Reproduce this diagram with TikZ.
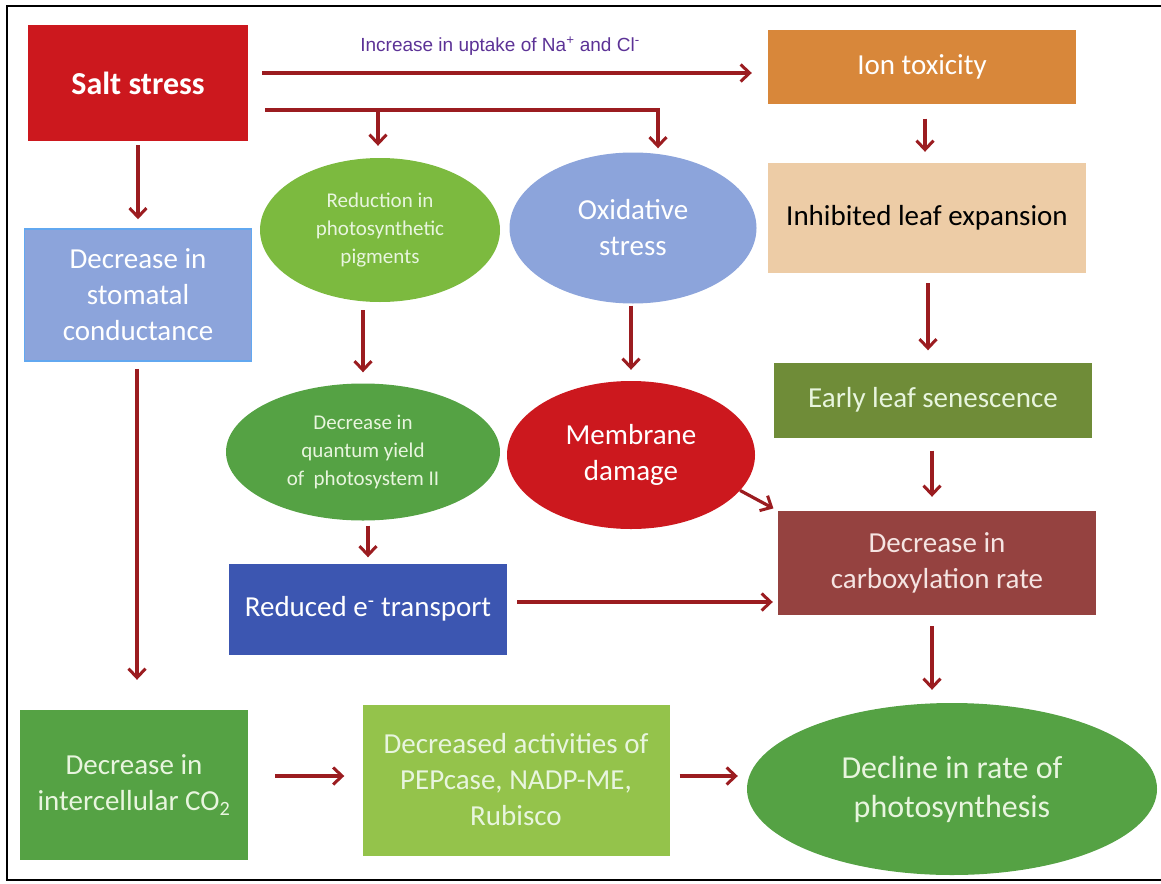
\documentclass[tikz,border=0pt]{standalone}
\usepackage{fontspec}
\setmainfont{Carlito}
\newfontfamily\arialfont{Liberation Sans}
\usetikzlibrary{arrows.meta,shapes.geometric}

\definecolor{arrowred}{RGB}{155,28,32}
\definecolor{saltred}{RGB}{204,24,30}
\definecolor{ionorange}{RGB}{216,135,58}
\definecolor{leafbeige}{RGB}{237,204,166}
\definecolor{olivegreen}{RGB}{111,140,56}
\definecolor{carbbrown}{RGB}{149,66,64}
\definecolor{midgreen}{RGB}{85,162,68}
\definecolor{paleblue}{RGB}{140,164,219}
\definecolor{skyline}{RGB}{98,168,240}
\definecolor{yellowgreen}{RGB}{124,186,63}
\definecolor{limegreen}{RGB}{148,195,75}
\definecolor{deepblue}{RGB}{60,86,177}
\definecolor{labelpurple}{RGB}{92,50,150}
\definecolor{greenwhite}{RGB}{232,245,222}
\definecolor{pinkwhite}{RGB}{245,228,226}

\begin{document}
\begin{tikzpicture}[x=1pt, y=-1pt,
  link/.style={draw=arrowred, line width=3.2pt,
    -{Straight Barb[length=9pt,width=17pt,line width=3pt]}},
  box/.style={rectangle, inner sep=0pt, align=center, text=white,
    font=\fontsize{29}{36}\selectfont},
  oval/.style={ellipse, inner sep=0pt, align=center, text=white,
    font=\fontsize{29}{36}\selectfont},
  smalltext/.style={font=\fontsize{21}{28}\selectfont}]
  \useasboundingbox (0,0) rectangle (1161,883);
  % frame
  \draw[line width=2pt] (1161,6) -- (7,6) -- (7,880) -- (1161,880);

  % left column
  \node[box, fill=saltred, minimum width=220pt, minimum height=116pt,
    font=\fontsize{32}{38}\selectfont\bfseries] (salt) at (138,83) {Salt stress};
  \node[box, fill=paleblue, draw=skyline, line width=1.5pt,
    minimum width=227pt, minimum height=132pt] (stom) at (138,295)
    {Decrease in\\stomatal\\conductance};
  \node[box, fill=midgreen, text=greenwhite, minimum width=228pt,
    minimum height=150pt] (inter) at (134,785)
    {Decrease in\\intercellular CO\textsubscript{2}};

  % middle column
  \node[oval, smalltext, fill=yellowgreen, text=greenwhite,
    minimum width=240pt, minimum height=144pt] (pig) at (380,230)
    {Reduction in\\photosynthetic\\pigments};
  \node[oval, fill=paleblue, minimum width=247pt, minimum height=151pt]
    (oxi) at (633,228) {Oxidative\\stress};
  \node[oval, smalltext, fill=midgreen, text=greenwhite,
    minimum width=274pt, minimum height=137pt] (quant) at (363,452)
    {Decrease in\\quantum yield\\of\ \ photosystem II};
  \node[oval, fill=saltred, minimum width=248pt, minimum height=148pt]
    (memb) at (631,455) {Membrane\\damage};
  \node[box, fill=deepblue, minimum width=278pt, minimum height=91pt]
    (etrans) at (368,609) {Reduced e\textsuperscript{-} transport};
  \node[box, fill=limegreen, text=greenwhite, minimum width=307pt,
    minimum height=151pt] (enzymes) at (516,780)
    {Decreased activities of\\PEPcase, NADP-ME,\\Rubisco};

  % right column
  \node[box, fill=ionorange, minimum width=308pt, minimum height=73pt]
    (ion) at (922,67) {Ion toxicity};
  \node[box, fill=leafbeige, text=black, minimum width=318pt,
    minimum height=110pt] (inhib) at (927,218) {Inhibited leaf expansion};
  \node[box, fill=olivegreen, text=greenwhite, minimum width=318pt,
    minimum height=75pt] (early) at (933,400) {Early leaf senescence};
  \node[box, fill=carbbrown, text=pinkwhite,
    minimum width=318pt, minimum height=104pt] (carb) at (937,563)
    {Decrease in\\carboxylation rate};
  \node[oval, fill=midgreen, text=greenwhite, minimum width=410pt,
    minimum height=172pt, font=\fontsize{32}{39}\selectfont]
    (decline) at (952,789) {Decline in rate of\\photosynthesis};

  \node[text=labelpurple, font=\arialfont\fontsize{19}{22}\selectfont]
    (uptake) at (500,46) {Increase in uptake of Na\textsuperscript{+} and Cl\textsuperscript{-}};

  % connectors
  \draw[link] ([xshift=14pt,yshift=10pt]salt.east) -- ([xshift=-16pt,yshift=-6pt]ion.west);
  \draw[link] ([xshift=17pt,yshift=-27pt]salt.east) -| ([xshift=25pt,yshift=4pt]oxi.north);
  \coordinate (fork) at (378,110);
  \draw[link, shorten >=12pt] (fork) -- (fork |- pig.north);
  \draw[link, shorten <=4pt, shorten >=9pt] (salt.south) -- (stom.north);
  \draw[link, shorten <=7pt, shorten >=30pt] ([xshift=-1pt]stom.south) -- ([xshift=-1pt]stom.south |- inter.north);
  \draw[link, shorten <=27pt, shorten >=18pt] ([yshift=9pt]inter.east) -- ([yshift=9pt]inter.east -| enzymes.west);
  \draw[link, shorten <=10pt, shorten >=9pt] ([yshift=4pt]enzymes.east) -- ([yshift=4pt]enzymes.east -| decline.west);
  \draw[link, shorten <=8pt, shorten >=11pt] (quant.north |- pig.south) -- (quant.north);
  \draw[link, shorten <=2pt, shorten >=11pt] (memb.north |- oxi.south) -- (memb.north);
  \draw[link, shorten <=5pt, shorten >=6pt] (etrans.north |- quant.south) -- (etrans.north);
  \draw[link, shorten <=10pt, shorten >=5pt] ([yshift=7pt]etrans.east) -- ([yshift=7pt]etrans.east -| carb.west);
  \draw[link, shorten >=5pt] (memb.-18) -- (carb.north west);
  \draw[link, shorten <=15pt, shorten >=11pt] ([xshift=3pt]ion.south) -- ([xshift=3pt]ion.south |- inhib.north);
  \draw[link, shorten <=10pt, shorten >=12pt] ([xshift=1pt]inhib.south) -- ([xshift=1pt]inhib.south |- early.north);
  \draw[link, shorten <=13pt, shorten >=14pt] ([xshift=-1pt]early.south) -- ([xshift=-1pt]early.south |- carb.north);
  \draw[link, shorten <=11pt, shorten >=13pt] ([xshift=-5pt]carb.south) -- ([xshift=-5pt]carb.south |- decline.north);
\end{tikzpicture}
\end{document}
